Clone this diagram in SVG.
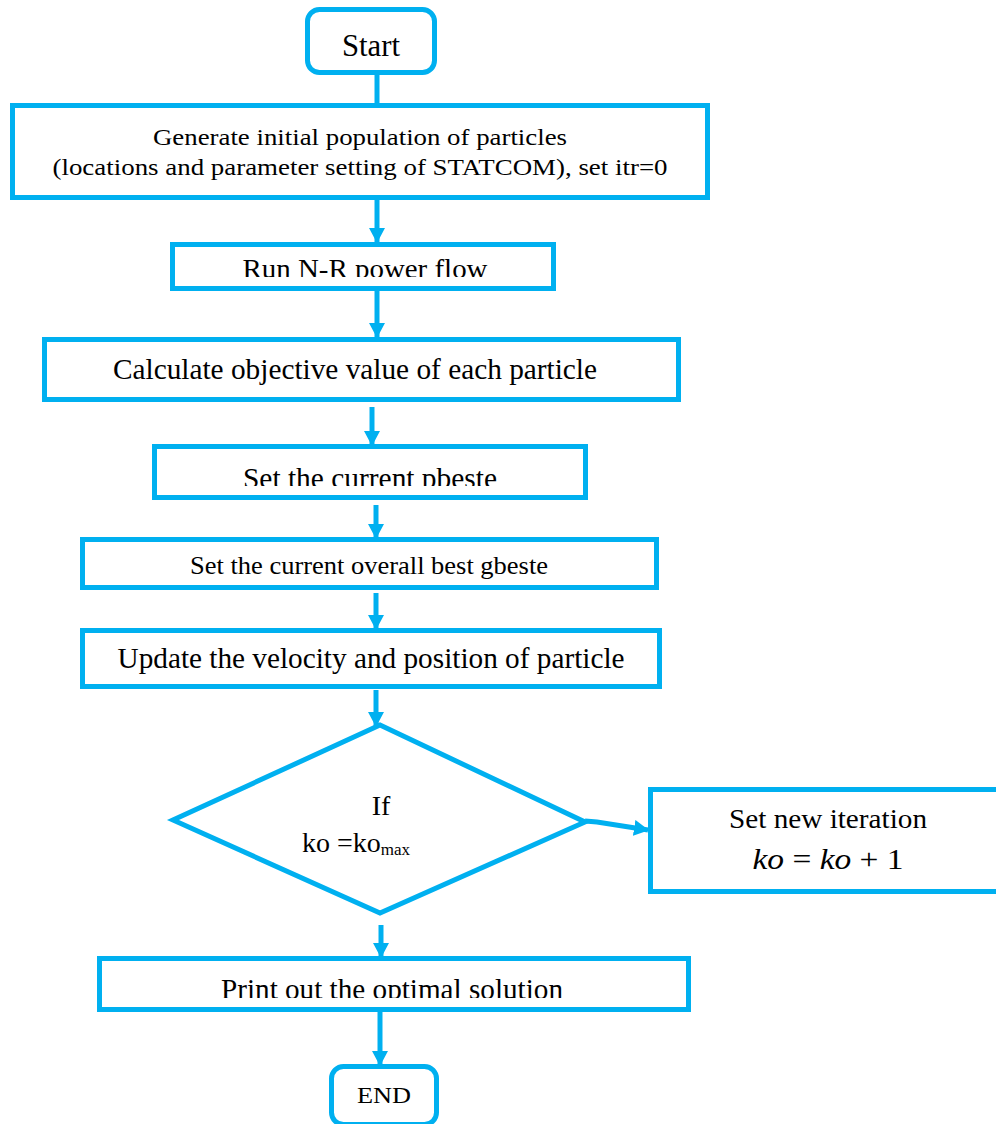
<svg xmlns="http://www.w3.org/2000/svg" width="996" height="1124" viewBox="0 0 996 1124">
<style>
.box{fill:#fff;stroke:#00B0F0;stroke-width:5}
.con{fill:none;stroke:#00B0F0;stroke-width:5}
text{font-family:'Liberation Serif','Times New Roman',serif;fill:#000}
.t{text-anchor:middle}
.i{font-style:italic}
</style>
<defs>
<marker id="ah" markerUnits="userSpaceOnUse" markerWidth="16" markerHeight="16" refX="14" refY="8" orient="auto">
<path d="M0,0 L15,8 L0,16 z" fill="#00B0F0"/>
</marker>
<clipPath id="c2"><rect x="170" y="240" width="390" height="37"/></clipPath>
<clipPath id="c4"><rect x="150" y="440" width="440" height="46"/></clipPath>
<clipPath id="c8"><rect x="95" y="950" width="600" height="48"/></clipPath>
</defs>
<rect width="996" height="1124" fill="#fff"/>
<g id="connectors">
<line class="con" x1="377" y1="73" x2="377" y2="105"/>
<line class="con" x1="377" y1="200" x2="377" y2="242" marker-end="url(#ah)"/>
<line class="con" x1="377" y1="291" x2="377" y2="337" marker-end="url(#ah)"/>
<line class="con" x1="372" y1="407" x2="372" y2="445" marker-end="url(#ah)"/>
<line class="con" x1="376" y1="505" x2="376" y2="538" marker-end="url(#ah)"/>
<line class="con" x1="376" y1="593" x2="376" y2="629" marker-end="url(#ah)"/>
<line class="con" x1="376" y1="690" x2="376" y2="726" marker-end="url(#ah)"/>
<polyline class="con" points="585,821 597,822 648,830" marker-end="url(#ah)"/>
<line class="con" x1="381" y1="925" x2="381" y2="957" marker-end="url(#ah)"/>
<line class="con" x1="380" y1="1012" x2="380" y2="1065" marker-end="url(#ah)"/>
</g>
<g id="start">
<rect class="box" x="307.5" y="9.5" width="127" height="63" rx="12"/>
<text class="t" x="371" y="56" font-family="Liberation Serif, serif" font-size="32" textLength="58" lengthAdjust="spacingAndGlyphs">Start</text>
</g>
<g id="init">
<rect class="box" x="12.5" y="105.5" width="695" height="92"/>
<text class="t" x="360" y="145" font-family="Liberation Serif, serif" font-size="24" textLength="414" lengthAdjust="spacingAndGlyphs">Generate initial population of particles</text>
<text class="t" x="360" y="175" font-family="Liberation Serif, serif" font-size="24" textLength="615" lengthAdjust="spacingAndGlyphs">(locations and parameter setting of STATCOM), set itr=0</text>
</g>
<g id="nr">
<rect class="box" x="172.5" y="244.5" width="381" height="44"/>
<text class="t" x="365" y="278" font-family="Liberation Serif, serif" font-size="27" textLength="245" lengthAdjust="spacingAndGlyphs" clip-path="url(#c2)">Run N-R power flow</text>
</g>
<g id="objective">
<rect class="box" x="44.5" y="339.5" width="634" height="60"/>
<text class="t" x="355" y="379" font-family="Liberation Serif, serif" font-size="29" textLength="484" lengthAdjust="spacingAndGlyphs">Calculate objective value of each particle</text>
</g>
<g id="pbest">
<rect class="box" x="154.5" y="446.5" width="431" height="51"/>
<text class="t" x="370" y="488" font-family="Liberation Serif, serif" font-size="29" textLength="254" lengthAdjust="spacingAndGlyphs" clip-path="url(#c4)">Set the current pbeste</text>
</g>
<g id="gbest">
<rect class="box" x="82.5" y="539.5" width="574" height="48"/>
<text class="t" x="369" y="574" font-family="Liberation Serif, serif" font-size="25" textLength="358" lengthAdjust="spacingAndGlyphs">Set the current overall best gbeste</text>
</g>
<g id="update">
<rect class="box" x="82.5" y="630.5" width="577" height="56"/>
<text class="t" x="371" y="668" font-family="Liberation Serif, serif" font-size="29" textLength="507" lengthAdjust="spacingAndGlyphs">Update the velocity and position of particle</text>
</g>
<g id="decision">
<polygon class="box" points="380,725 585,822 380,913 173,820"/>
<text class="t" x="381" y="815" font-family="Liberation Serif, serif" font-size="28">If</text>
<text x="302" y="852" font-family="Liberation Serif, serif" font-size="28">ko =ko<tspan font-size="17" dy="3">max</tspan></text>
</g>
<g id="iterate">
<rect class="box" x="650.5" y="789.5" width="360" height="102"/>
<text class="t" x="828" y="828" font-family="Liberation Serif, serif" font-size="27" textLength="198" lengthAdjust="spacingAndGlyphs">Set new iteration</text>
<text class="t" x="828" y="869" font-family="Liberation Serif, serif" font-size="29" textLength="151" lengthAdjust="spacingAndGlyphs"><tspan class="i">ko</tspan> = <tspan class="i">ko</tspan> + 1</text>
</g>
<g id="print">
<rect class="box" x="99.5" y="958.5" width="589" height="51"/>
<text class="t" x="392" y="999" font-family="Liberation Serif, serif" font-size="29" textLength="342" lengthAdjust="spacingAndGlyphs" clip-path="url(#c8)">Print out the optimal solution</text>
</g>
<g id="end">
<rect class="box" x="331.5" y="1066.5" width="105" height="58" rx="12"/>
<text class="t" x="384" y="1103" font-family="Liberation Serif, serif" font-size="23" textLength="54" lengthAdjust="spacingAndGlyphs">END</text>
</g>
</svg>
